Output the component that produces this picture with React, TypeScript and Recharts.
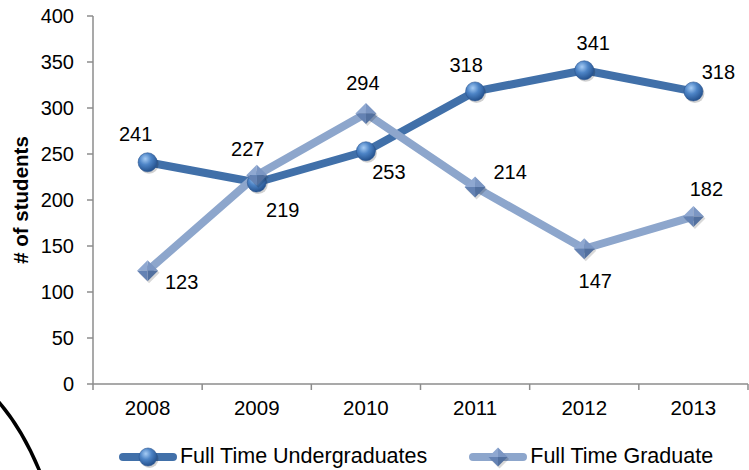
import { LineChart, Line, XAxis, YAxis, Legend, LabelList, Label } from 'recharts';

const years = ['2008', '2009', '2010', '2011', '2012', '2013'];
const undergraduates = [241, 219, 253, 318, 341, 318];
const graduates = [123, 227, 294, 214, 147, 182];
const yTicks = [0, 50, 100, 150, 200, 250, 300, 350, 400];

// where each value label sits relative to its marker
const ugLabelOffsets = [[-12, -28], [26, 27], [23, 21], [-9, -26], [9, -27], [25, -19]];
const gLabelOffsets = [[34, 11], [-9, -26], [-3, -31], [35, -15], [11, 32], [13, -28]];

const data = years.map((year, i) => ({
  pos: i + 0.5,
  year,
  undergraduates: undergraduates[i],
  graduates: graduates[i],
}));

const xTicks = years.flatMap((_, i) => [i, i + 0.5]).concat(years.length);

const FONT = '"Liberation Sans", Arial, sans-serif';
const AXIS = '#8c8c8c';
const DARK = '#4170a9';
const LIGHT = '#8da6cc';

function Sphere({ cx, cy, r = 9.5, grad = 'sphereGrad' }: any) {
  if (cx == null || cy == null) return null;
  return (
    <g>
      <circle cx={cx + 1.5} cy={cy + 2} r={r} fill="rgba(0,0,0,0.18)" />
      <circle cx={cx} cy={cy} r={r} fill={`url(#${grad})`} stroke="#2c5690" strokeWidth={0.6} />
    </g>
  );
}

function Diamond({ cx, cy, s = 10.5 }: any) {
  if (cx == null || cy == null) return null;
  return (
    <g>
      <path d={`M${cx + 1.5},${cy - s + 2} L${cx + s + 1.5},${cy + 2} L${cx + 1.5},${cy + s + 2} L${cx - s + 1.5},${cy + 2} Z`} fill="rgba(0,0,0,0.15)" />
      <path d={`M${cx},${cy} L${cx - s},${cy} L${cx},${cy - s} Z`} fill="#8fa8d1" />
      <path d={`M${cx},${cy} L${cx},${cy - s} L${cx + s},${cy} Z`} fill="#7b96c3" />
      <path d={`M${cx},${cy} L${cx + s},${cy} L${cx},${cy + s} Z`} fill="#52709f" />
      <path d={`M${cx},${cy} L${cx},${cy + s} L${cx - s},${cy} Z`} fill="#6482b3" />
    </g>
  );
}

function makeLabel(offsets: number[][]) {
  return (props: any) => {
    const x = props.x ?? props.viewBox?.x;
    const y = props.y ?? props.viewBox?.y;
    const i = props.index ?? 0;
    const [dx, dy] = offsets[i] || [0, -25];
    return (
      <text
        x={x + dx}
        y={y + dy}
        textAnchor="middle"
        dominantBaseline="central"
        fontSize={20}
        fontFamily={FONT}
        fill="#000"
      >
        {props.value}
      </text>
    );
  };
}

function XTick({ x, y, payload }: any) {
  const v = payload.value;
  if (Number.isInteger(v)) {
    return <line x1={x} x2={x} y1={y} y2={y + 6} stroke={AXIS} strokeWidth={1.5} />;
  }
  return (
    <text x={x} y={y + 16} dy="0.71em" textAnchor="middle" fontSize={20.5} fontFamily={FONT} fill="#000">
      {years[Math.floor(v)]}
    </text>
  );
}

function YLabel({ viewBox }: any) {
  const cy = viewBox ? viewBox.y + viewBox.height / 2 : 200;
  return (
    <text
      x={20}
      y={cy}
      transform={`rotate(-90 20 ${cy})`}
      textAnchor="middle"
      dominantBaseline="central"
      fontSize={20.5}
      fontWeight="bold"
      fontFamily={FONT}
      fill="#000"
    >
      # of students
    </text>
  );
}

function LegendIcon({ kind }: { kind: 'sphere' | 'diamond' }) {
  return (
    <svg width={58} height={24} style={{ display: 'block' }}>
      <defs>
        <radialGradient id="legendSphere" cx="38%" cy="32%" r="70%">
          <stop offset="0%" stopColor="#a6ccf5" />
          <stop offset="45%" stopColor="#4d84c6" />
          <stop offset="100%" stopColor="#23508c" />
        </radialGradient>
      </defs>
      <line x1={4} x2={54} y1={12} y2={12} stroke={kind === 'sphere' ? DARK : LIGHT} strokeWidth={8} strokeLinecap="round" />
      {kind === 'sphere' ? <Sphere cx={29} cy={12} r={9} grad="legendSphere" /> : <Diamond cx={29} cy={12} s={9.5} />}
    </svg>
  );
}

function renderLegend() {
  const items = [
    { kind: 'sphere' as const, name: 'Full Time Undergraduates' },
    { kind: 'diamond' as const, name: 'Full Time Graduate' },
  ];
  return (
    <div
      style={{
        display: 'flex',
        justifyContent: 'center',
        alignItems: 'center',
        gap: 42,
        width: 749,
        paddingLeft: 83,
        paddingTop: 20,
        boxSizing: 'border-box',
        fontFamily: FONT,
        fontSize: 21.5,
        color: '#000',
      }}
    >
      {items.map((it) => (
        <div key={it.name} style={{ display: 'flex', alignItems: 'center', gap: 3 }}>
          <LegendIcon kind={it.kind} />
          <span>{it.name}</span>
        </div>
      ))}
    </div>
  );
}

export default function App() {
  return (
    <div style={{ position: 'absolute', left: 0, top: 0, width: 749, height: 470, background: '#fff', fontFamily: FONT }}>
      <LineChart width={749} height={470} data={data} margin={{ top: 16, right: 1, left: 0, bottom: 0 }}>
        <defs>
          <radialGradient id="sphereGrad" cx="38%" cy="32%" r="70%">
            <stop offset="0%" stopColor="#a6ccf5" />
            <stop offset="45%" stopColor="#4d84c6" />
            <stop offset="100%" stopColor="#23508c" />
          </radialGradient>
        </defs>
        <XAxis
          type="number"
          dataKey="pos"
          domain={[0, years.length]}
          ticks={xTicks}
          interval={0}
          tick={<XTick />}
          tickLine={false}
          tickSize={0}
          tickMargin={0}
          axisLine={{ stroke: AXIS, strokeWidth: 1.5 }}
          height={40}
        />
        <YAxis
          domain={[0, 400]}
          ticks={yTicks}
          interval={0}
          width={93}
          tickSize={6}
          tickMargin={13}
          tick={{ fontSize: 20, fill: '#000', fontFamily: FONT }}
          tickLine={{ stroke: AXIS, strokeWidth: 1.5 }}
          axisLine={{ stroke: AXIS, strokeWidth: 1.5 }}
        >
          <Label content={<YLabel />} />
        </YAxis>
        <Legend verticalAlign="bottom" height={46} content={renderLegend} wrapperStyle={{ left: 0, bottom: 0 }} />
        <Line
          type="linear"
          dataKey="undergraduates"
          name="Full Time Undergraduates"
          stroke={DARK}
          strokeWidth={8}
          strokeLinejoin="round"
          dot={(p: any) => <Sphere key={`u${p.index}`} cx={p.cx} cy={p.cy} />}
          activeDot={false}
          isAnimationActive={false}
        >
          <LabelList dataKey="undergraduates" content={makeLabel(ugLabelOffsets)} />
        </Line>
        <Line
          type="linear"
          dataKey="graduates"
          name="Full Time Graduate"
          stroke={LIGHT}
          strokeWidth={8}
          strokeLinejoin="round"
          dot={(p: any) => <Diamond key={`g${p.index}`} cx={p.cx} cy={p.cy} />}
          activeDot={false}
          isAnimationActive={false}
        >
          <LabelList dataKey="graduates" content={makeLabel(gLabelOffsets)} />
        </Line>
      </LineChart>
      <svg width={60} height={80} style={{ position: 'absolute', left: 0, top: 390, pointerEvents: 'none' }}>
        <path d="M -3 10 Q 22 38 40 82" fill="none" stroke="#000" strokeWidth={3.5} />
      </svg>
    </div>
  );
}
